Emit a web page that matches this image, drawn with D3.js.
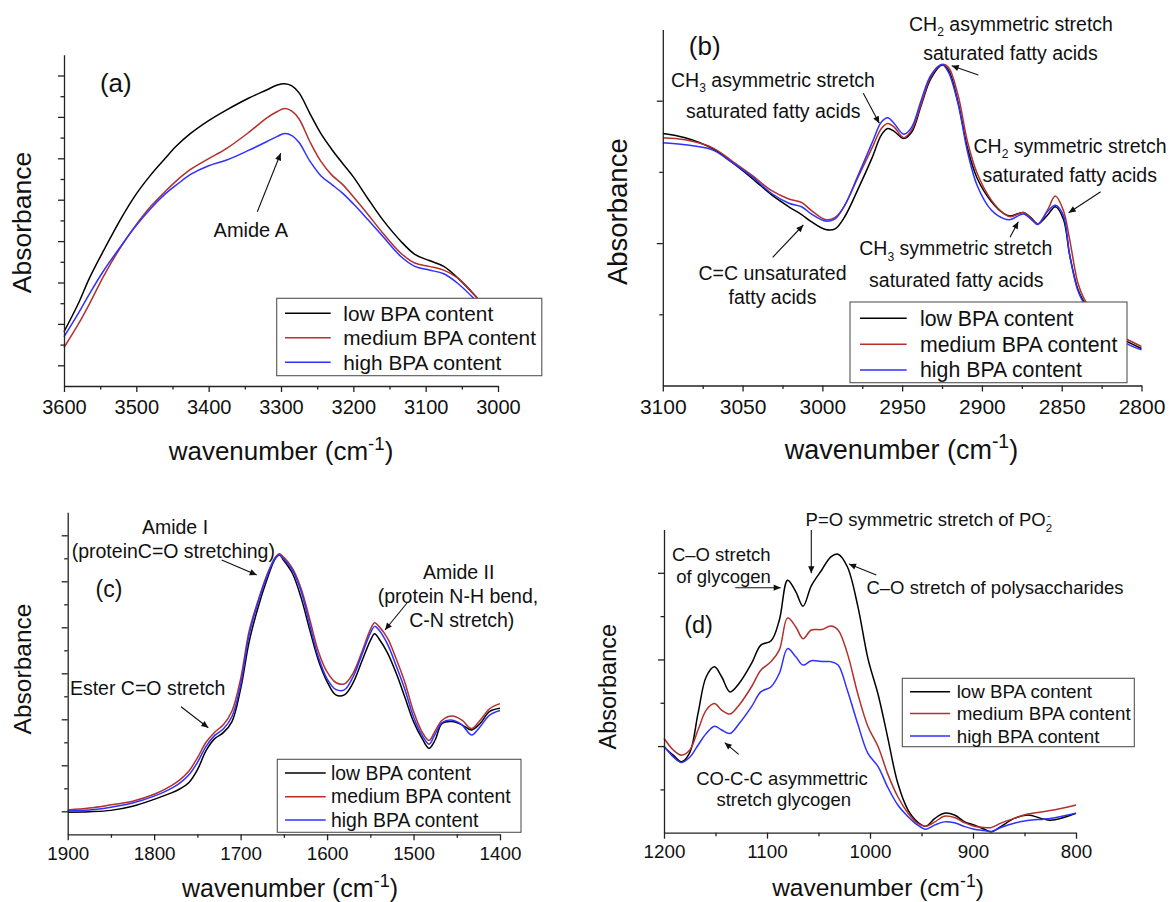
<!DOCTYPE html>
<html><head><meta charset="utf-8">
<script src="https://cdn.jsdelivr.net/npm/d3@7"></script>
<style>body{margin:0;background:#fff}svg{display:block;font-family:'Liberation Sans',Arial,sans-serif}</style>
</head><body>
<svg id="chart" width="1169" height="902"></svg>
<script>
// ---------------- DATA ----------------
const seriesNames = ["low BPA content", "medium BPA content", "high BPA content"];
const seriesColors = ["#000000", "#b3302c", "#3030ff"];

// (a) Amide A region
const aWavenumber = [3600,3580,3565,3545,3520,3500,3480,3460,3445,3425,3400,3375,3345,3320,3305,3295,3285,3275,3260,3245,3230,3215,3200,3180,3160,3135,3115,3095,3075,3055,3030,3000];
const aLow    = [1.31,2.00,2.60,3.28,4.08,4.64,5.10,5.50,5.79,6.10,6.41,6.67,6.95,7.15,7.27,7.30,7.25,7.08,6.58,6.10,5.72,5.38,5.05,4.53,4.03,3.51,3.18,3.03,2.89,2.60,2.15,1.55];
const aMedium = [0.93,1.50,1.98,2.66,3.40,3.90,4.34,4.70,4.95,5.23,5.49,5.74,6.12,6.47,6.63,6.70,6.64,6.45,5.90,5.43,5.10,4.87,4.57,4.15,3.71,3.22,2.97,2.89,2.80,2.60,2.15,1.55];
const aHigh   = [1.19,1.76,2.22,2.79,3.41,3.88,4.29,4.64,4.85,5.11,5.32,5.46,5.69,5.90,6.03,6.10,6.05,5.88,5.43,5.08,4.87,4.66,4.40,4.02,3.63,3.14,2.89,2.80,2.71,2.47,2.05,1.45];
const aTickLabels = [3600,3500,3400,3300,3200,3100,3000];

// (b) lipid CH stretch region
const bWavenumber = [3100,3086,3069,3057,3044,3032,3021,3013,3007,2998,2992,2986,2978,2969,2963,2959,2955,2949,2944,2938,2932,2925,2921,2915,2909,2903,2894,2886,2882,2874,2869,2865,2859,2854,2849,2845,2840,2836,2825,2810,2800];
const bLow    = [3.54,3.48,3.33,3.14,2.91,2.68,2.51,2.40,2.30,2.19,2.20,2.37,2.74,3.19,3.52,3.61,3.57,3.47,3.56,3.94,4.31,4.50,4.43,3.98,3.33,2.91,2.58,2.41,2.38,2.43,2.35,2.27,2.39,2.51,2.34,1.83,1.36,1.17,0.85,0.63,0.52];
const bMedium = [3.48,3.45,3.34,3.16,2.95,2.74,2.62,2.57,2.46,2.33,2.36,2.53,2.91,3.33,3.61,3.68,3.63,3.48,3.59,3.96,4.34,4.51,4.47,4.08,3.42,2.98,2.60,2.41,2.37,2.43,2.34,2.27,2.46,2.66,2.46,2.05,1.45,1.22,0.88,0.66,0.55];
const bHigh   = [3.41,3.38,3.31,3.14,2.93,2.70,2.56,2.51,2.41,2.31,2.34,2.53,2.93,3.40,3.70,3.76,3.68,3.53,3.63,4.01,4.36,4.51,4.40,3.96,3.28,2.81,2.46,2.34,2.33,2.41,2.33,2.26,2.44,2.53,2.39,1.83,1.34,1.15,0.84,0.60,0.50];
const bTickLabels = [3100,3050,3000,2950,2900,2850,2800];

// (c) Amide I / II region
const cWavenumber = [1900,1875,1850,1825,1800,1780,1770,1760,1750,1740,1730,1720,1710,1700,1690,1680,1670,1660,1655,1650,1640,1630,1620,1610,1600,1590,1580,1570,1560,1550,1545,1540,1530,1520,1510,1500,1490,1482,1475,1467,1455,1444,1433,1423,1412,1400];
const cLow    = [0.48,0.49,0.52,0.61,0.76,0.90,0.99,1.12,1.40,1.82,2.08,2.21,2.45,3.16,4.20,4.92,5.51,5.99,6.07,5.95,5.67,5.14,4.44,3.78,3.32,3.03,3.03,3.29,3.75,4.21,4.36,4.25,3.94,3.50,2.98,2.45,2.08,1.87,2.05,2.41,2.45,2.38,2.27,2.41,2.67,2.74];
const cMedium = [0.53,0.57,0.64,0.72,0.87,1.06,1.19,1.37,1.66,2.00,2.22,2.38,2.68,3.38,4.43,5.07,5.62,6.02,6.10,6.02,5.78,5.34,4.67,3.97,3.53,3.30,3.27,3.50,3.95,4.45,4.60,4.52,4.26,3.81,3.30,2.67,2.22,2.04,2.25,2.48,2.57,2.48,2.30,2.48,2.73,2.84];
const cHigh   = [0.51,0.53,0.59,0.68,0.83,1.00,1.12,1.29,1.56,1.91,2.15,2.29,2.56,3.25,4.35,5.03,5.58,6.00,6.07,5.98,5.74,5.28,4.55,3.85,3.38,3.15,3.14,3.42,3.89,4.37,4.52,4.44,4.13,3.66,3.15,2.55,2.15,1.96,2.18,2.43,2.48,2.38,2.16,2.34,2.59,2.69];
const cTickLabels = [1900,1800,1700,1600,1500,1400];

// (d) carbohydrate / phosphate region
const dWavenumber = [1200,1191,1183,1175,1167,1159,1151,1144,1136,1127,1115,1106,1096,1088,1080,1072,1065,1057,1047,1038,1031,1022,1012,1002,992,983,973,963,954,946,937,928,918,908,899,889,882,873,860,847,825,800];
const dLow    = [1.98,1.79,1.64,1.85,2.75,3.60,3.83,3.60,3.25,3.45,3.91,4.33,4.43,4.91,5.83,5.56,5.23,5.70,6.06,6.37,6.43,6.14,5.25,4.02,3.18,2.22,1.14,0.52,0.25,0.15,0.33,0.45,0.41,0.25,0.18,0.08,0.02,0.14,0.33,0.41,0.29,0.45];
const dMedium = [2.18,1.91,1.79,1.91,2.37,2.83,2.98,2.83,2.74,2.95,3.37,3.75,3.95,4.22,4.96,4.75,4.48,4.68,4.69,4.77,4.68,4.14,3.22,2.45,1.98,1.37,0.83,0.45,0.22,0.15,0.25,0.38,0.35,0.23,0.15,0.12,0.12,0.22,0.33,0.43,0.51,0.64];
const dHigh   = [2.00,1.75,1.62,1.74,2.02,2.29,2.46,2.37,2.29,2.52,2.91,3.25,3.37,3.68,4.25,4.06,3.87,3.97,3.95,3.95,3.87,3.29,2.52,1.83,1.52,1.06,0.64,0.37,0.18,0.08,0.18,0.25,0.23,0.14,0.08,0.05,0.03,0.12,0.22,0.28,0.33,0.45];
const dTickLabels = [1200,1100,1000,900,800];

// ---------------- LAYOUT ----------------
const panels = [
  { wn: aWavenumber, series: [aLow, aMedium, aHigh],
    xDomain: [3600, 3000], xRange: [64, 498], yDomain: [0, 8], yRange: [386, 54.8],
    xMajor: aTickLabels, xMinor: d3.range(3550, 3000, -100),
    yMajor: d3.range(0.5, 8, 1), yMinor: d3.range(1, 8, 1),
    tickFs: 20, tickCY: 406.5,
    ylabel: { cx: 21.3, cy: 222.5, fs: 26.5 }, xlabel: { cx: 281, cy: 451.5, fs: 26 },
    tag: { t: "(a)", cx: 115.8, cy: 85, fs: 26 },
    legend: { x0: 276.7, y0: 298.3, x1: 541.8, y1: 375.7, rows: [313.3, 337.7, 362.3], l0: 285, l1: 330.7, tx: 343.3, fs: 20.8 },
    notes: [ { cx: 250.8, cy: 230, fs: 20, parts: ["Amide A"] } ],
    arrows: [ [257.3, 211.7, 280.7, 153.3] ] },
  { wn: bWavenumber, series: [bLow, bMedium, bHigh],
    xDomain: [3100, 2800], xRange: [662.8, 1141.5], yDomain: [0, 5], yRange: [385.5, 29.5],
    xMajor: bTickLabels, xMinor: d3.range(3075, 2800, -50),
    yMajor: [2, 4], yMinor: [1, 3],
    tickFs: 21, tickCY: 406.7,
    ylabel: { cx: 616.7, cy: 211.7, fs: 27.5 }, xlabel: { cx: 901.5, cy: 450, fs: 27 },
    tag: { t: "(b)", cx: 704.7, cy: 48.3, fs: 26 },
    legend: { x0: 850, y0: 302, x1: 1127, y1: 382.7, rows: [318.3, 344.3, 370], l0: 860, l1: 906.7, tx: 920, fs: 21.3 },
    notes: [
      { cx: 1011, cy: 24, fs: 19.5, parts: ["CH", ["2", "sub"], " asymmetric stretch"] },
      { cx: 1010.4, cy: 53.5, fs: 19.5, parts: ["saturated fatty acids"] },
      { cx: 773, cy: 80, fs: 19.5, parts: ["CH", ["3", "sub"], " asymmetric stretch"] },
      { cx: 773.3, cy: 111, fs: 19.5, parts: ["saturated fatty acids"] },
      { cx: 1070, cy: 146, fs: 19.5, parts: ["CH", ["2", "sub"], " symmetric stretch"] },
      { cx: 1069.7, cy: 175.5, fs: 19.5, parts: ["saturated fatty acids"] },
      { cx: 955.8, cy: 248.3, fs: 19.5, parts: ["CH", ["3", "sub"], " symmetric stretch"] },
      { cx: 956.3, cy: 280, fs: 19.5, parts: ["saturated fatty acids"] },
      { cx: 772.5, cy: 273.3, fs: 19.5, parts: ["C=C unsaturated"] },
      { cx: 772.5, cy: 297.7, fs: 19.5, parts: ["fatty acids"] }
    ],
    arrows: [ [978.3, 75, 951.7, 65.7], [863.3, 93.3, 879.3, 123.3], [1100.7, 191.7, 1068.7, 212.7],
              [1010, 237.3, 1018.3, 221.7], [772.7, 257.3, 803.3, 225] ] },
  { wn: cWavenumber, series: [cLow, cMedium, cHigh],
    xDomain: [1900, 1400], xRange: [67.7, 500], yDomain: [0, 7], yRange: [834.3, 512.3],
    xMajor: cTickLabels, xMinor: d3.range(1850, 1400, -100),
    yMajor: d3.range(0.5, 7, 1), yMinor: d3.range(1, 7, 1),
    tickFs: 18.8, tickCY: 853.3,
    ylabel: { cx: 22, cy: 669, fs: 24.5 }, xlabel: { cx: 290, cy: 888.5, fs: 25 },
    tag: { t: "(c)", cx: 109, cy: 591, fs: 23 },
    legend: { x0: 277.3, y0: 759.3, x1: 521, y1: 832.3, rows: [773, 796.7, 820], l0: 285, l1: 325.7, tx: 331, fs: 19.4 },
    notes: [
      { cx: 175, cy: 527.7, fs: 19.5, parts: ["Amide I"] },
      { cx: 173.3, cy: 551.7, fs: 19.5, parts: ["(proteinC=O stretching)"] },
      { cx: 458.7, cy: 572.3, fs: 19.5, parts: ["Amide II"] },
      { cx: 458, cy: 596, fs: 19.5, parts: ["(protein N-H bend,"] },
      { cx: 461.7, cy: 620, fs: 19.5, parts: ["C-N stretch)"] },
      { cx: 147.7, cy: 688.3, fs: 19.5, parts: ["Ester C=O stretch"] }
    ],
    arrows: [ [221.7, 560, 256.7, 575], [407, 603, 385, 630], [181, 706.7, 208.3, 727.7] ] },
  { wn: dWavenumber, series: [dLow, dMedium, dHigh],
    xDomain: [1200, 800], xRange: [664, 1076], yDomain: [0, 7], yRange: [832.7, 529.5],
    xMajor: dTickLabels, xMinor: d3.range(1150, 800, -100),
    yMajor: [2, 4, 6], yMinor: [1, 3, 5],
    tickFs: 18.8, tickCY: 851.7,
    ylabel: { cx: 608, cy: 686.7, fs: 23.5 }, xlabel: { cx: 878, cy: 888, fs: 24.5 },
    tag: { t: "(d)", cx: 698.5, cy: 626.7, fs: 23.5 },
    legend: { x0: 902.3, y0: 678.3, x1: 1134.3, y1: 746.7, rows: [691.7, 713.5, 736], l0: 910, l1: 950, tx: 956.7, fs: 18.8 },
    notes: [
      { x: 805.6, cy: 520, fs: 18.5, anchor: "start", parts: ["P=O symmetric stretch of PO", ["2", "sub"], ["-", "sup", -5]] },
      { cx: 721.3, cy: 555, fs: 18.5, parts: ["C\u2013O stretch"] },
      { cx: 723.5, cy: 576.7, fs: 18.5, parts: ["of glycogen"] },
      { cx: 995, cy: 588, fs: 18.5, parts: ["C\u2013O stretch of polysaccharides"] },
      { cx: 782, cy: 778.3, fs: 18.5, parts: ["CO-C-C asymmettric"] },
      { cx: 783.8, cy: 800, fs: 18.5, parts: ["stretch glycogen"] }
    ],
    arrows: [ [811.3, 530, 811.3, 573.3], [735.3, 587.7, 780.7, 587.7], [876.3, 575, 849, 564], [738.7, 754.3, 724.7, 742.7] ] }
];

// ---------------- DRAW ----------------
const svg = d3.select("#chart");
svg.append("rect").attr("width", 1169).attr("height", 902).attr("fill", "#fff");
const defs = svg.append("defs");
defs.append("marker").attr("id", "arrowhead").attr("viewBox", "0 0 10 10")
  .attr("refX", 10).attr("refY", 5).attr("markerWidth", 9).attr("markerHeight", 7)
  .attr("markerUnits", "userSpaceOnUse").attr("orient", "auto")
  .append("path").attr("d", "M0,0.5 L10,5 L0,9.5 Z").attr("fill", "#111");

function richText(g, n) {
  const t = g.append("text")
    .attr("x", n.x !== undefined ? n.x : n.cx)
    .attr("y", n.cy + 0.34 * n.fs)
    .attr("font-size", n.fs)
    .attr("text-anchor", n.anchor || "middle")
    .attr("fill", "#111");
  let shift = 0;
  n.parts.forEach(p => {
    const [s, kind, dx] = Array.isArray(p) ? p : [p, ""];
    const ts = t.append("tspan").text(s);
    const target = kind === "sub" ? 0.3 * n.fs : kind === "sup" ? -0.42 * n.fs : kind === "bigsup" ? -0.4 * n.fs : 0;
    if (target !== shift) { ts.attr("dy", target - shift); shift = target; }
    if (kind === "bigsup") ts.attr("font-size", n.fs * 0.72);
    else if (kind) ts.attr("font-size", n.fs * 0.62);
    if (dx) ts.attr("dx", dx);
  });
  return t;
}

panels.forEach(P => {
  const g = svg.append("g");
  const x = d3.scaleLinear().domain(P.xDomain).range(P.xRange);
  const y = d3.scaleLinear().domain(P.yDomain).range(P.yRange);
  const axisY0 = P.yRange[0];

  // curves
  const line = d3.line().x(d => x(d[0])).y(d => y(d[1])).curve(d3.curveCatmullRom.alpha(0.5));
  P.series.forEach((vals, k) => {
    const pts = P.wn.map((w, i) => [w, vals[i]]);
    g.append("path").datum(pts).attr("d", line)
      .attr("fill", "none").attr("stroke", seriesColors[k]).attr("stroke-width", 1.5)
      .attr("stroke-linejoin", "round");
  });

  // axes
  const axStyle = sel => { sel.selectAll("path,line").attr("stroke", "#222").attr("stroke-width", 1.3); };
  const majorSize = 6, minorSize = 3.5;
  const pad = P.tickCY - axisY0 - majorSize - 0.36 * P.tickFs;
  g.append("g").attr("transform", `translate(0,${axisY0})`)
    .call(d3.axisBottom(x).tickValues(P.xMinor).tickSize(minorSize).tickSizeOuter(0).tickFormat(""))
    .call(axStyle).call(s => s.select(".domain").remove());
  const xa = g.append("g").attr("transform", `translate(0,${axisY0})`)
    .call(d3.axisBottom(x).tickValues(P.xMajor).tickSize(majorSize).tickSizeOuter(0).tickPadding(pad).tickFormat(d3.format("d")))
    .call(axStyle);
  xa.selectAll("text").attr("font-size", P.tickFs).attr("fill", "#111").attr("font-family", "'Liberation Sans',Arial,sans-serif");

  const ax0 = P.xRange[0];
  g.append("g").attr("transform", `translate(${ax0},0)`)
    .call(d3.axisLeft(y).tickValues(P.yMinor).tickSize(minorSize).tickSizeOuter(0).tickFormat(""))
    .call(axStyle).call(s => s.select(".domain").remove());
  g.append("g").attr("transform", `translate(${ax0},0)`)
    .call(d3.axisLeft(y).tickValues(P.yMajor).tickSize(majorSize).tickSizeOuter(0).tickFormat(""))
    .call(axStyle);

  // axis titles
  g.append("text").attr("transform", `translate(${P.ylabel.cx + 0.36 * P.ylabel.fs},${P.ylabel.cy}) rotate(-90)`)
    .attr("text-anchor", "middle").attr("font-size", P.ylabel.fs).attr("fill", "#111").text("Absorbance");
  richText(g, { cx: P.xlabel.cx, cy: P.xlabel.cy, fs: P.xlabel.fs,
    parts: ["wavenumber (cm", ["-1", "bigsup"], ")"] });

  // legend
  const L = P.legend;
  g.append("rect").attr("x", L.x0).attr("y", L.y0).attr("width", L.x1 - L.x0).attr("height", L.y1 - L.y0)
    .attr("fill", "#fff").attr("stroke", "#555").attr("stroke-width", 1.1);
  seriesNames.forEach((name, k) => {
    g.append("line").attr("x1", L.l0).attr("x2", L.l1).attr("y1", L.rows[k]).attr("y2", L.rows[k])
      .attr("stroke", seriesColors[k]).attr("stroke-width", 1.6);
    g.append("text").attr("x", L.tx).attr("y", L.rows[k] + 0.35 * L.fs).attr("font-size", L.fs)
      .attr("fill", "#111").text(name);
  });

  // panel tag
  g.append("text").attr("x", P.tag.cx).attr("y", P.tag.cy + 0.27 * P.tag.fs).attr("text-anchor", "middle")
    .attr("font-size", P.tag.fs).attr("fill", "#111").text(P.tag.t);

  // notes & arrows
  P.notes.forEach(n => richText(g, n));
  P.arrows.forEach(a => {
    g.append("line").attr("x1", a[0]).attr("y1", a[1]).attr("x2", a[2]).attr("y2", a[3])
      .attr("stroke", "#111").attr("stroke-width", 1.1).attr("marker-end", "url(#arrowhead)");
  });
});
</script>
</body></html>
